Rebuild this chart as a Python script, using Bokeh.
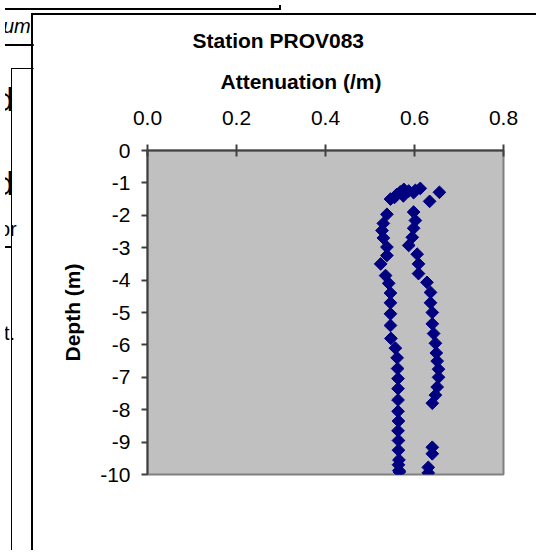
from bokeh.plotting import figure
from bokeh.models import Range1d, FixedTicker, PrintfTickFormatter, Title, Div
from bokeh.embed import file_html
from bokeh.resources import INLINE

# Left-hand profile (attenuation /m, depth m)
atten_a = [0.546, 0.555, 0.560, 0.568, 0.576, 0.575,
           0.538, 0.530, 0.527, 0.530, 0.538, 0.538, 0.524, 0.535, 0.542,
           0.546, 0.546, 0.546, 0.546, 0.547, 0.557, 0.561, 0.562, 0.563,
           0.563, 0.563, 0.563, 0.564, 0.563, 0.564, 0.564, 0.565, 0.564,
           0.565, 0.566]
depth_a = [-1.50, -1.45, -1.36, -1.28, -1.20, -1.40,
           -1.97, -2.25, -2.47, -2.70, -2.98, -3.24, -3.50, -3.86, -4.10,
           -4.40, -4.70, -5.04, -5.40, -5.80, -6.10, -6.40, -6.73, -7.04,
           -7.35, -7.70, -8.05, -8.35, -8.65, -8.95, -9.25, -9.55, -9.70,
           -9.88, -9.92]

# Right-hand profile (attenuation /m, depth m)
atten_b = [0.587, 0.602, 0.613, 0.598, 0.656, 0.634,
           0.598, 0.602, 0.598, 0.595, 0.587, 0.606, 0.609, 0.609, 0.628,
           0.636, 0.636, 0.640, 0.640, 0.643, 0.647, 0.649, 0.651, 0.654,
           0.654, 0.651, 0.647, 0.640,
           0.640, 0.640, 0.631, 0.631]
depth_b = [-1.25, -1.23, -1.17, -1.30, -1.29, -1.57,
           -1.90, -2.16, -2.40, -2.68, -2.93, -3.20, -3.50, -3.80, -4.07,
           -4.38, -4.70, -5.00, -5.35, -5.65, -5.95, -6.25, -6.50, -6.75,
           -7.00, -7.30, -7.55, -7.80,
           -9.16, -9.36, -9.78, -9.95]

x_ticks = [0.0, 0.2, 0.4, 0.6, 0.8]
y_ticks = [0, -1, -2, -3, -4, -5, -6, -7, -8, -9, -10]

FONT = "Liberation Sans"

p = figure(width=505, height=537,
           x_range=Range1d(0, 0.8), y_range=Range1d(-10, 0),
           x_axis_location="above",
           output_backend="svg", toolbar_location=None,
           min_border_left=114, min_border_top=135,
           min_border_right=35, min_border_bottom=78)
p.styles = {"position": "absolute", "left": "31px", "top": "13px",
            "border-left": "2px solid black", "border-top": "2px solid black"}

p.background_fill_color = "#C0C0C0"
p.border_fill_color = "white"
p.outline_line_color = "#808080"
p.outline_line_width = 2
p.grid.visible = False

# Titles
t_att = Title(text="Attenuation (/m)", align="left", offset=73, standoff=29,
              text_font=FONT, text_font_size="21px", text_font_style="bold",
              text_color="black")
p.add_layout(t_att, "above")
p.title.text = "Station PROV083"
p.title.align = "left"
p.title.offset = 45
p.title.standoff = 3
p.title.text_font = FONT
p.title.text_font_size = "21px"
p.title.text_font_style = "bold"
p.title.text_color = "black"

xa = p.xaxis[0]
xa.ticker = FixedTicker(ticks=x_ticks)
xa.formatter = PrintfTickFormatter(format="%.1f")
xa.minor_tick_line_color = None
xa.major_tick_in = 6
xa.major_tick_out = 6
xa.major_label_standoff = 20
xa.axis_line_color = "#404040"
xa.axis_line_width = 2
xa.major_tick_line_color = "#404040"
xa.major_tick_line_width = 2
xa.major_label_text_font = FONT
xa.major_label_text_font_size = "21px"
xa.major_label_text_color = "black"

ya = p.yaxis[0]
ya.ticker = FixedTicker(ticks=y_ticks)
ya.formatter = PrintfTickFormatter(format="%d")
ya.minor_tick_line_color = None
ya.major_tick_in = 0
ya.major_tick_out = 6
ya.major_label_standoff = 11
ya.axis_line_color = "#404040"
ya.axis_line_width = 2
ya.major_tick_line_color = "#404040"
ya.major_tick_line_width = 2
ya.major_label_text_font = FONT
ya.major_label_text_font_size = "21px"
ya.major_label_text_color = "black"
ya.axis_label = "Depth (m)"
ya.axis_label_text_font = FONT
ya.axis_label_text_font_size = "21px"
ya.axis_label_text_font_style = "bold"
ya.axis_label_text_color = "black"
ya.axis_label_standoff = 13

p.scatter(atten_a, depth_a, marker="square", angle=0.785398, size=9,
          fill_color="#000080", line_color="#000080")
p.scatter(atten_b, depth_b, marker="square", angle=0.785398, size=9,
          fill_color="#000080", line_color="#000080")

# Fragments of the neighbouring window visible at the left edge of the screenshot
bg_html = """
<div style="position:relative;width:290px;height:545px;overflow:hidden;font-family:'Liberation Sans',sans-serif;color:black;margin:0;padding:0;">
 <div style="position:absolute;left:-2px;top:-4px;width:278px;height:9px;border-right:2px solid black;border-bottom:2px solid black;"></div>
 <span style="position:absolute;left:-2px;top:10px;font-size:20px;line-height:23px;font-style:italic;">um</span>
 <div style="position:absolute;left:-2px;top:39px;width:31px;height:0;border-top:2px solid black;"></div>
 <div style="position:absolute;left:6px;top:63px;width:30px;height:520px;border-left:1px solid black;border-top:1px solid black;"></div>
 <span style="position:absolute;left:-10px;top:75px;font-size:34px;line-height:39px;">d</span>
 <span style="position:absolute;left:-10px;top:159px;font-size:34px;line-height:39px;">d</span>
 <span style="position:absolute;left:-6px;top:213px;font-size:20px;line-height:23px;">or</span>
 <div style="position:absolute;left:-2px;top:241px;width:9px;height:0;border-top:2px solid black;"></div>
 <span style="position:absolute;left:-1px;top:317px;font-size:20px;line-height:23px;">t.</span>
</div>
"""
bg = Div(text=bg_html, width=290, height=545,
         styles={"position": "absolute", "left": "0px", "top": "0px"})

open("out.html", "w").write(file_html([bg, p], INLINE))
